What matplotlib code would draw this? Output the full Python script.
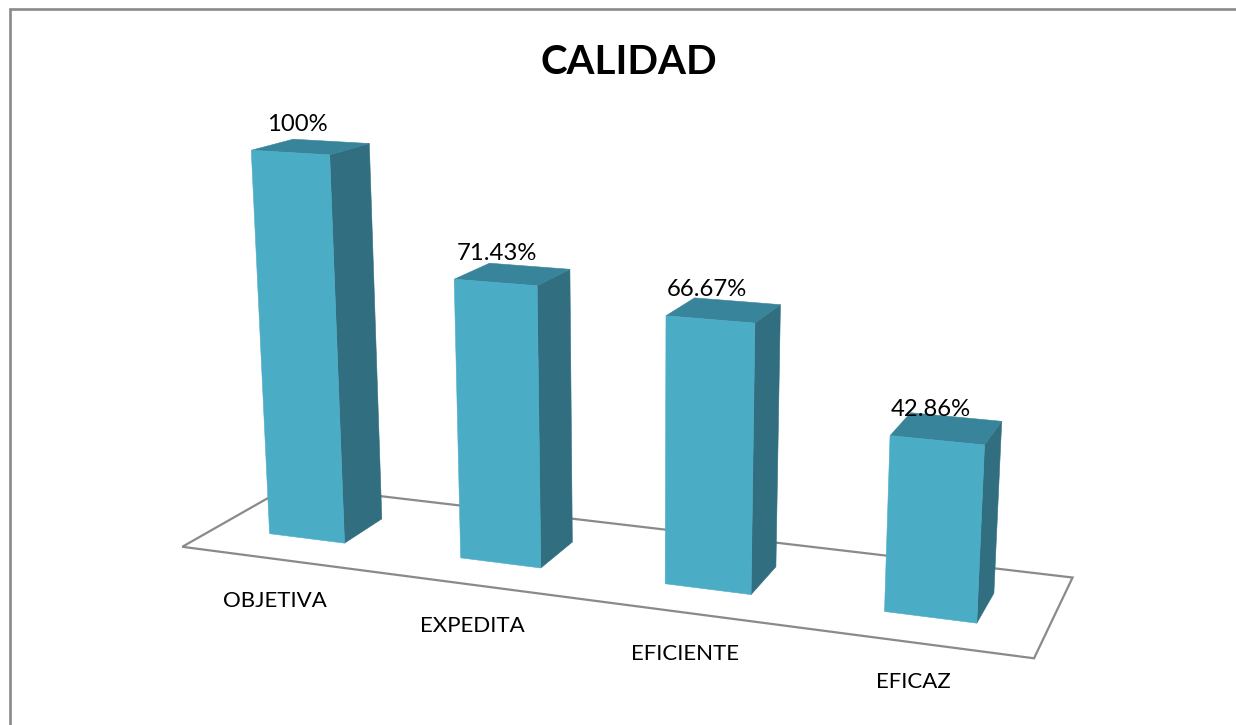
import numpy as np
import matplotlib
matplotlib.use('Agg')
import matplotlib.pyplot as plt
from matplotlib.patches import Polygon

plt.rcParams['font.family'] = ['Lato', 'DejaVu Sans']

categories = ['OBJETIVA', 'EXPEDITA', 'EFICIENTE', 'EFICAZ']
values = [100, 71.43, 66.67, 42.86]
value_labels = ['100%', '71.43%', '66.67%', '42.86%']

# camara de la vista 3D: (categoria, fondo, valor/100) -> pixel
CAMERA = np.array([[177.1888, 50.6044, -30.31544, 306.8105],
                   [5.968205, -5.682637, -393.0075, 538.381],
                   [-0.0329423, 0.03552584, -0.04722214, 1.0]])
BAR_W = 0.4
FLOOR_X = (-0.487, 3.495)
FLOOR_D = (-0.80, 1.84)

# posiciones de los textos en pixeles
value_label_xy = [(297, 124), (497, 253), (707, 289), (931, 409)]
category_xy = [(275, 601), (472, 626), (685, 654), (913, 682)]

FRONT = '#4BACC6'
SIDE = '#316E7F'
TOP = '#38849A'
GRAY = '#8A8A8A'


def project(x, d, v):
    p = CAMERA @ np.array([x, d, v, 1.0])
    return p[0] / p[2], p[1] / p[2]


def face(ax, corners, color):
    pts = [project(*c) for c in corners]
    ax.add_patch(Polygon(pts, closed=True, facecolor=color, edgecolor=color, linewidth=0.4, zorder=3))


fig = plt.figure(figsize=(12.36, 7.25), dpi=100)
ax = fig.add_axes([0, 0, 1, 1])
ax.set_xlim(0, 1236)
ax.set_ylim(725, 0)
ax.axis('off')

# marco del grafico (solo izquierda y arriba quedan dentro de la imagen)
ax.plot([10, 10, 1236], [725, 9, 9], color=GRAY, lw=1.9, solid_joinstyle='miter', zorder=1)

# piso
x0, x1 = FLOOR_X
d0, d1 = FLOOR_D
floor = [project(x0, d0, 0), project(x1, d0, 0), project(x1, d1, 0), project(x0, d1, 0)]
ax.add_patch(Polygon(floor, closed=True, facecolor='white', edgecolor=GRAY, linewidth=1.6, zorder=2))

# barras
for i, val in enumerate(values):
    v = val / 100
    l, r = i - BAR_W / 2, i + BAR_W / 2
    face(ax, [(r, 0, 0), (r, 1, 0), (r, 1, v), (r, 0, v)], SIDE)
    face(ax, [(l, 0, v), (r, 0, v), (r, 1, v), (l, 1, v)], TOP)
    face(ax, [(l, 0, 0), (r, 0, 0), (r, 0, v), (l, 0, v)], FRONT)

for txt, (x, y) in zip(value_labels, value_label_xy):
    ax.text(x, y, txt, ha='center', va='center', fontsize=17.2, color='black', zorder=5)
for txt, (x, y) in zip(categories, category_xy):
    ax.text(x, y, txt, ha='center', va='center', fontsize=16, color='black', zorder=5)

ax.text(629, 62, 'CALIDAD', ha='center', va='center', fontsize=29, fontweight='bold', color='black', zorder=5)

fig.savefig('out.png', dpi=100)
